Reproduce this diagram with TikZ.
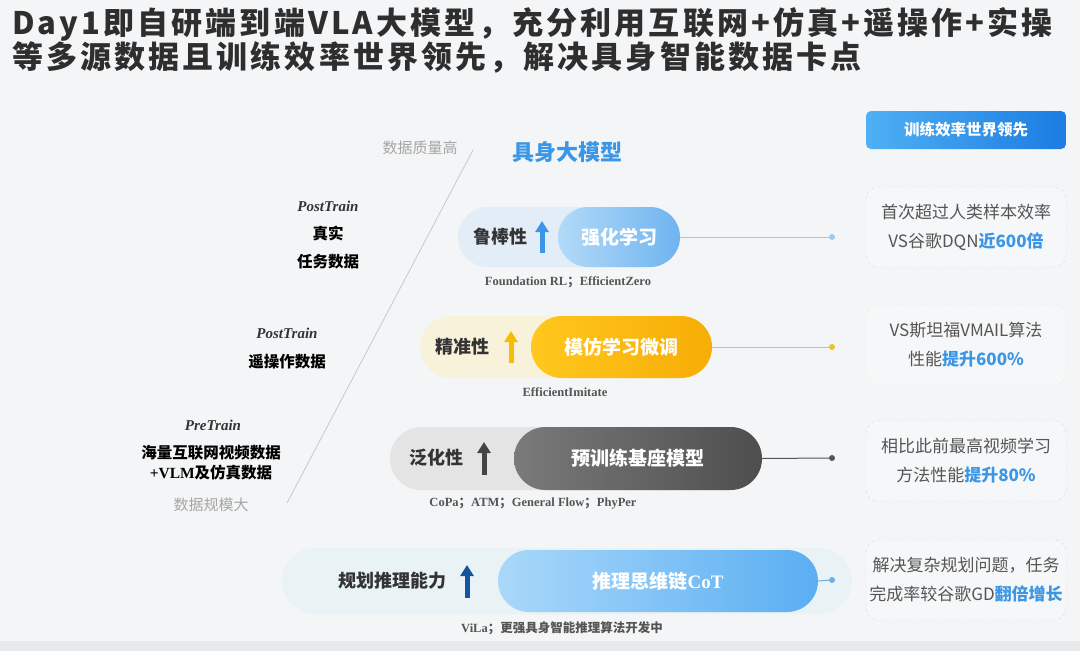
\documentclass[tikz,border=0pt]{standalone}
\usepackage{fontspec}
\setmainfont{Noto Sans CJK SC}
\newfontfamily\serif{Liberation Serif}
\usetikzlibrary{arrows.meta}
\definecolor{bg}{HTML}{F4F5F6}
\definecolor{bgbot}{HTML}{E8E9EA}
\definecolor{axl}{HTML}{C8C8C8}
\definecolor{titlec}{HTML}{2E2E2E}
\definecolor{hl}{HTML}{3C96E6}
\definecolor{txt}{HTML}{333333}
\definecolor{sub}{HTML}{555555}
\definecolor{grayt}{HTML}{A6A6A6}
\definecolor{rowA}{HTML}{E2EDF7}
\definecolor{rowB}{HTML}{F8F2DA}
\definecolor{rowC}{HTML}{E4E4E4}
\definecolor{rowD}{HTML}{E9F3F5}
\definecolor{blueL}{HTML}{B3DAF8}
\definecolor{blueR}{HTML}{6EB4F0}
\definecolor{yelL}{HTML}{FFC71F}
\definecolor{yelR}{HTML}{F7AD05}
\definecolor{grL}{HTML}{7A7A7A}
\definecolor{grR}{HTML}{4E4E4E}
\definecolor{cotL}{HTML}{A9D8FA}
\definecolor{cotR}{HTML}{5AAEF2}
\definecolor{btnL}{HTML}{4FB0F4}
\definecolor{btnR}{HTML}{1B7CE2}
\definecolor{arrA}{HTML}{3B95E8}
\definecolor{arrB}{HTML}{F6BE00}
\definecolor{arrC}{HTML}{444444}
\definecolor{arrD}{HTML}{15549E}
\definecolor{lineA}{HTML}{9CC9F0}
\definecolor{lineB}{HTML}{F3C02A}
\definecolor{lineC}{HTML}{555555}
\definecolor{lineD}{HTML}{6AAFE8}
\definecolor{boxb}{HTML}{D6DADF}
\definecolor{boxby}{HTML}{EFEBD6}
\definecolor{boxf}{HTML}{F6F7F8}
\tikzset{
  bgpill/.style={rounded corners=30, minimum height=60, inner sep=0},
  inpill/.style={rounded corners=30, minimum height=60, inner sep=0, text=white, font=\fontsize{19}{22}\selectfont\bfseries},
  prop/.style={text=txt, font=\fontsize{18}{22}\selectfont\bfseries, anchor=center},
  upar/.style={line width=5pt, -{Triangle[width=13pt,length=11pt]}},
  conn/.style={line width=1pt},
  dotc/.style={circle, inner sep=0, minimum size=6pt},
  ref/.style={text=sub, font=\fontsize{12.5}{15}\selectfont\bfseries},
  rbox/.style={draw=boxb, dashed, fill=boxf, rounded corners=12, minimum width=200, minimum height=80, align=center, text=sub, font=\fontsize{17}{29}\selectfont},
  lefth/.style={text=txt, font=\fontsize{15}{18}\selectfont\serif\bfseries\itshape},
  leftt/.style={text=black, font=\fontsize{15.5}{20}\selectfont\bfseries, align=center},
  axis/.style={text=grayt, font=\fontsize{15}{18}\selectfont},
  ttl/.style={anchor=west, inner sep=0, text=titlec, font=\fontsize{31}{36}\selectfont\bfseries\addfontfeatures{LetterSpace=10}}
}
\newcommand{\hlt}[1]{{\color{hl}\bfseries #1}}
\newcommand{\ens}[1]{{\serif\bfseries #1}}
\begin{document}
\begin{tikzpicture}[x=1pt,y=-1pt]
\fill[bg] (0,0) rectangle (1080,651);
\useasboundingbox (0,0) rectangle (1080,651);
\fill[bgbot] (0,641) rectangle (1080,651);
% title
\node[ttl] (t1) at (12,24) {Day1即自研端到端VLA大模型，充分利用互联网+仿真+遥操作+实操};
\node[ttl] (t2) at (12,57) {等多源数据且训练效率世界领先，解决具身智能数据卡点};
% axis
\node[axis] (qh) at (420,148) {数据质量高};
\node[axis] (sl) at (211,505) {数据规模大};
\coordinate (ax1) at (473,150);
\coordinate (ax2) at (287,503);
\draw[axl, line width=0.8pt] (ax1) -- (ax2);
\node[text=hl, font=\fontsize{22}{26}\selectfont\bfseries] (title2) at (567,152) {具身大模型};
\node[rounded corners=5, minimum width=200, minimum height=38, left color=btnL, right color=btnR, text=white, font=\fontsize{15.5}{18}\selectfont\bfseries] (btn) at (966,130) {训练效率世界领先};
% left labels
\node[lefth] (l1a) at (328,206) {PostTrain};
\node[leftt] (l1b) at (328,248) {真实\\[8pt]任务数据};
\node[lefth] (l2a) at (287,333) {PostTrain};
\node[leftt] (l2b) at (287,362) {遥操作数据};
\node[lefth] (l3a) at (213,425) {PreTrain};
\node[leftt] (l3b) at (211,463) {海量互联网视频数据\\\ens{+VLM}及仿真数据};
% row 1
\node[bgpill, fill=rowA, minimum width=222] (b1) at (569,237) {};
\node[inpill, minimum width=122, left color=blueL, right color=blueR] (p1) at (619,237) {强化学习};
\node[prop] (r1) at (500,237) {鲁棒性};
\coordinate (a1s) at (542,253); \coordinate (a1e) at (542,221);
\draw[upar, arrA] (a1s) -- (a1e);
\node[dotc, fill=lineA] (d1) at (832,237) {};
\draw[conn, lineA] (p1.east) -- (d1);
\node[ref] (f1) at (568,282) {\ens{Foundation RL}；\ens{EfficientZero}};
\node[rbox] (x1) at (966,227) {首次超过人类样本效率\\VS谷歌DQN\hlt{近600倍}};
% row 2
\node[bgpill, fill=rowB, minimum width=292, minimum height=62, rounded corners=31] (b2) at (566,347) {};
\node[inpill, minimum width=181, minimum height=62, rounded corners=31, left color=yelL, right color=yelR] (p2) at (621.5,347) {模仿学习微调};
\node[prop] (r2) at (462,347) {精准性};
\coordinate (a2s) at (511,363); \coordinate (a2e) at (511,331);
\draw[upar, arrB] (a2s) -- (a2e);
\node[dotc, fill=lineB] (d2) at (832,347) {};
\draw[conn, lineB] (p2.east) -- (d2);
\node[ref] (f2) at (565,392) {\ens{EfficientImitate}};
\node[rbox, draw=boxby] (x2) at (966,345) {VS斯坦福VMAIL算法\\性能\hlt{提升600\%}};
% row 3
\node[bgpill, fill=rowC, minimum width=372, minimum height=63, rounded corners=31.5] (b3) at (576,458.5) {};
\node[inpill, minimum width=248, minimum height=63, rounded corners=31.5, left color=grL, right color=grR] (p3) at (638,458.5) {预训练基座模型};
\node[prop] (r3) at (436,458) {泛化性};
\coordinate (a3s) at (484,475); \coordinate (a3e) at (484,442);
\draw[upar, arrC] (a3s) -- (a3e);
\node[dotc, fill=lineC] (d3) at (832,458) {};
\draw[conn, lineC] (p3.east) -- (d3);
\node[ref] (f3) at (533,504) {\ens{CoPa}；\ens{ATM}；\ens{General Flow}；\ens{PhyPer}};
\node[rbox] (x3) at (966,461) {相比此前最高视频学习\\方法性能\hlt{提升80\%}};
% row 4
\node[bgpill, fill=rowD, minimum width=570, minimum height=66, rounded corners=33] (b4) at (567,581) {};
\node[inpill, minimum width=320, minimum height=62, rounded corners=31, left color=cotL, right color=cotR] (p4) at (658,581) {推理思维链\ens{CoT}};
\node[prop] (r4) at (392,581) {规划推理能力};
\coordinate (a4s) at (467,598); \coordinate (a4e) at (467,565);
\draw[upar, arrD] (a4s) -- (a4e);
\node[dotc, fill=lineD] (d4) at (832,580) {};
\draw[conn, lineD] (p4.east) -- (d4);
\node[ref] (f4) at (562,628) {\ens{ViLa}；更强具身智能推理算法开发中};
\node[rbox] (x4) at (966,580) {解决复杂规划问题，任务\\完成率较谷歌GD\hlt{翻倍增长}};
\end{tikzpicture}
\end{document}
